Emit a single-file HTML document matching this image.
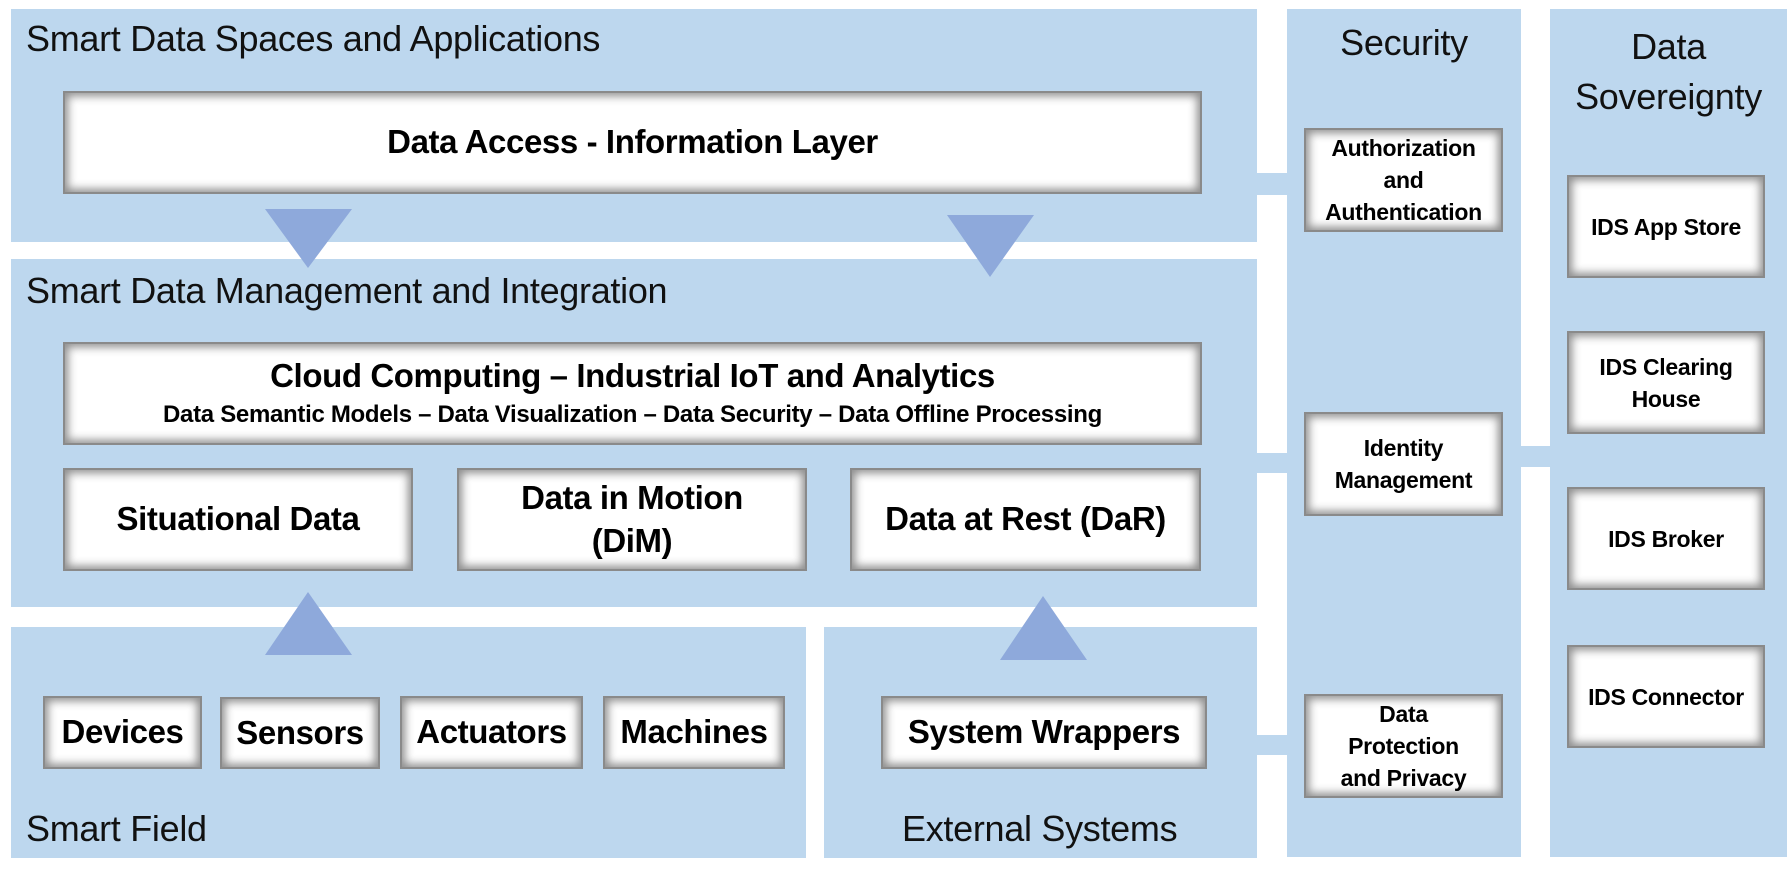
<!DOCTYPE html>
<html><head><meta charset="utf-8"><style>
body{margin:0;width:1790px;height:877px;background:#fff;position:relative;overflow:hidden;font-family:"Liberation Sans",sans-serif}
.p{position:absolute;background:#BDD7EE}
.t{position:absolute;font-size:36px;color:#111;white-space:nowrap;letter-spacing:-0.3px}
.b{position:absolute;background:#fff;box-sizing:border-box;border:2px solid #8a8a8a;box-shadow:inset 0 0 9px 3px rgba(0,0,0,.45);display:flex;align-items:center;justify-content:center;text-align:center;font-weight:bold;color:#000;font-size:33px;letter-spacing:-0.4px;line-height:1.3}
.s{font-size:23px;line-height:32px;letter-spacing:-0.3px}
</style></head><body>
<div class="p" style="left:11px;top:9px;width:1246px;height:233px"></div>
<div class="p" style="left:11px;top:259px;width:1246px;height:348px"></div>
<div class="p" style="left:11px;top:627px;width:795px;height:231px"></div>
<div class="p" style="left:824px;top:627px;width:433px;height:231px"></div>
<div class="p" style="left:1287px;top:9px;width:234px;height:848px"></div>
<div class="p" style="left:1550px;top:9px;width:237px;height:848px"></div>
<div class="p" style="left:1256px;top:173px;width:32px;height:22px"></div>
<div class="p" style="left:1256px;top:453px;width:32px;height:20px"></div>
<div class="p" style="left:1256px;top:735px;width:32px;height:20px"></div>
<div class="p" style="left:1520px;top:446px;width:31px;height:21px"></div>

<div class="t" style="left:26px;top:18px">Smart Data Spaces and Applications</div>
<div class="t" style="left:26px;top:270px">Smart Data Management and Integration</div>
<div class="t" style="left:26px;top:808px">Smart Field</div>
<div class="t" style="left:902px;top:808px">External Systems</div>
<div class="t" style="left:1287px;top:22px;width:234px;text-align:center">Security</div>
<div class="t" style="left:1550px;top:22px;width:237px;text-align:center;line-height:50px;white-space:normal">Data Sovereignty</div>

<div class="b" style="left:63px;top:91px;width:1139px;height:103px">Data Access - Information Layer</div>
<div class="b" style="left:63px;top:342px;width:1139px;height:103px;flex-direction:column"><div>Cloud Computing – Industrial IoT and Analytics</div><div style="font-size:24px;line-height:1.4;letter-spacing:-0.3px">Data Semantic Models – Data Visualization – Data Security – Data Offline Processing</div></div>
<div class="b" style="left:63px;top:468px;width:350px;height:103px">Situational Data</div>
<div class="b" style="left:457px;top:468px;width:350px;height:103px">Data in Motion<br>(DiM)</div>
<div class="b" style="left:850px;top:468px;width:351px;height:103px">Data at Rest (DaR)</div>
<div class="b" style="left:43px;top:696px;width:159px;height:73px">Devices</div>
<div class="b" style="left:220px;top:697px;width:160px;height:72px">Sensors</div>
<div class="b" style="left:400px;top:696px;width:183px;height:73px">Actuators</div>
<div class="b" style="left:603px;top:696px;width:182px;height:73px">Machines</div>
<div class="b" style="left:881px;top:696px;width:326px;height:73px">System Wrappers</div>
<div class="b s" style="left:1304px;top:128px;width:199px;height:104px">Authorization<br>and<br>Authentication</div>
<div class="b s" style="left:1304px;top:412px;width:199px;height:104px">Identity<br>Management</div>
<div class="b s" style="left:1304px;top:694px;width:199px;height:104px">Data<br>Protection<br>and Privacy</div>
<div class="b s" style="left:1567px;top:175px;width:198px;height:103px">IDS App Store</div>
<div class="b s" style="left:1567px;top:331px;width:198px;height:103px">IDS Clearing<br>House</div>
<div class="b s" style="left:1567px;top:487px;width:198px;height:103px">IDS Broker</div>
<div class="b s" style="left:1567px;top:645px;width:198px;height:103px">IDS Connector</div>

<svg style="position:absolute;left:0;top:0" width="1790" height="877">
<polygon points="265,209 352,209 308,268" fill="#8EA9DB"/>
<polygon points="947,215 1034,215 990,277" fill="#8EA9DB"/>
<polygon points="265,655 352,655 308,592" fill="#8EA9DB"/>
<polygon points="1000,660 1087,660 1043,596" fill="#8EA9DB"/>
</svg>
</body></html>
